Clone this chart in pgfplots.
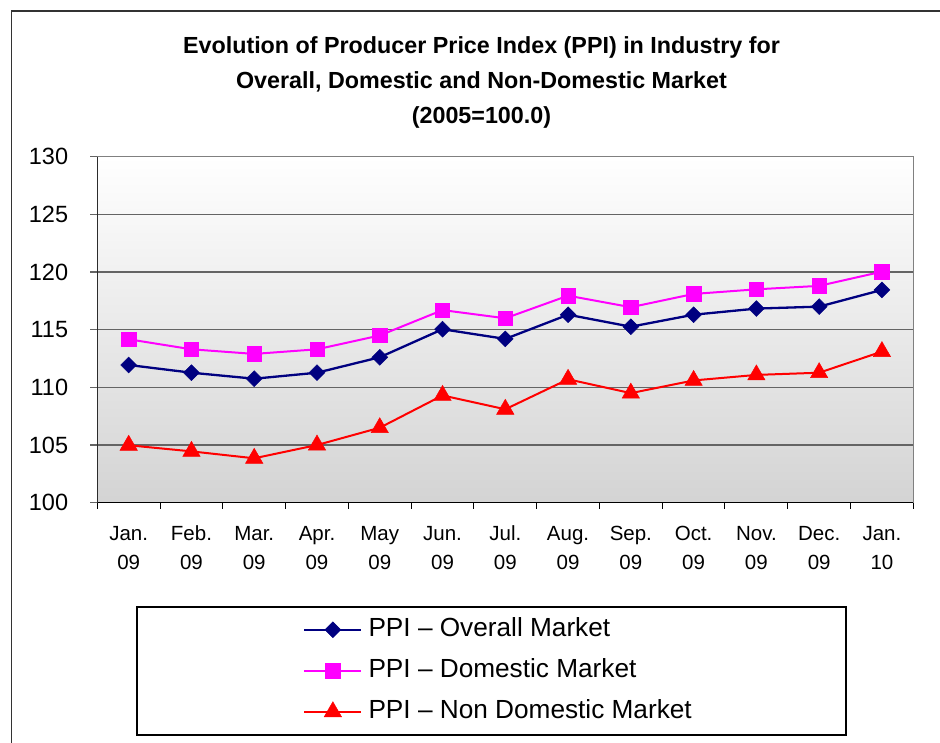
\documentclass[border=0pt]{standalone}
\usepackage{pgfplots}
\pgfplotsset{compat=1.18}
\usepackage{fontspec}
\setmainfont{Liberation Sans}
\definecolor{navy}{RGB}{0,0,128}
\definecolor{mag}{RGB}{255,0,255}
\definecolor{rd}{RGB}{255,0,0}
\definecolor{gridc}{RGB}{100,100,100}
\begin{document}
\begin{tikzpicture}
\useasboundingbox (0,0) rectangle (940pt,743pt);
\draw[line width=1.5pt, black!80] (11.5pt,0pt) -- (11.5pt,732pt) -- (940pt,732pt);
\begin{axis}[
  at={(97.3pt,240.3pt)}, anchor=south west,
  scale only axis, width=816pt, height=346pt,
  xmin=-0.5, xmax=12.5, ymin=100, ymax=130,
  ytick={100,105,...,130},
  xtick={0,...,12},
  xticklabels={{Jan.\\09},{Feb.\\09},{Mar.\\09},{Apr.\\09},{May\\09},{Jun.\\09},{Jul.\\09},{Aug.\\09},{Sep.\\09},{Oct.\\09},{Nov.\\09},{Dec.\\09},{Jan.\\10}},
  minor xtick={-0.5,0.5,...,12.5},
  major x tick style={draw=none},
  tick pos=left,
  tick align=outside,
  major tick length=7pt, minor tick length=6pt,
  tick style={gridc, line width=1.2pt},
  minor x tick style={black, line width=1pt},
  ymajorgrids=true,
  grid style={gridc, line width=1.2pt},
  axis line style={draw=black!50, line width=1.5pt},
  axis background/.style={top color=white, bottom color=black!17},
  /pgf/number format/assume math mode=true,
  yticklabel style={font=\fontsize{23.5}{28}\selectfont, inner sep=0pt, anchor=east, xshift=-22pt},
  xticklabel style={font=\fontsize{20.5}{29}\selectfont, align=center, inner sep=0pt, anchor=north, yshift=-16pt},
  title={Evolution of Producer Price Index (PPI) in Industry for\\Overall, Domestic and Non-Domestic Market\\(2005=100.0)},
  title style={at={(axis description cs:0.4708,1.3315)}, anchor=north, align=center, inner sep=0pt, font=\bfseries\fontsize{23.3}{35}\selectfont},
  legend style={at={(axis description cs:0.2521,-0.332)}, anchor=north west, draw=none, fill=none, inner sep=0pt, row sep=17pt,
    nodes={inner sep=0pt, text height=19pt, text depth=5pt, font=\fontsize{26.2}{30}\selectfont},
    /tikz/every odd column/.append style={column sep=6pt}},
  legend cell align=left,
  legend image code/.code={\draw[mark repeat=2,mark phase=2,#1] plot coordinates {(0pt,0pt)(28.5pt,0pt)(57pt,0pt)};},
]
\addplot[navy, line width=2.3pt, mark=square*, mark size=5.6pt, mark options={rotate=45, line width=0.5pt}] coordinates {
(0,111.94) (1,111.27) (2,110.75) (3,111.27) (4,112.61) (5,115.04) (6,114.2) (7,116.3) (8,115.26) (9,116.3) (10,116.83) (11,117.0) (12,118.45)};
\addlegendentry{PPI -- Overall Market}
\addplot[mag, line width=2pt, mark=square*, mark size=7.2pt, mark options={line width=0.5pt}] coordinates {
(0,114.17) (1,113.3) (2,112.9) (3,113.3) (4,114.5) (5,116.7) (6,115.99) (7,117.95) (8,116.95) (9,118.1) (10,118.5) (11,118.8) (12,120.03)};
\addlegendentry{PPI -- Domestic Market}
\addplot[rd, line width=2pt, mark=triangle*, mark size=10pt, mark options={line width=0.5pt}] coordinates {
(0,104.98) (1,104.45) (2,103.85) (3,105.0) (4,106.5) (5,109.3) (6,108.1) (7,110.7) (8,109.5) (9,110.6) (10,111.08) (11,111.27) (12,113.1)};
\addlegendentry{PPI -- Non Domestic Market}
\draw[black, line width=1.5pt] (rel axis cs:0,1) -- (rel axis cs:0,0) -- (rel axis cs:1,0);
\end{axis}
\draw[black, line width=1.2pt] (137pt,8pt) rectangle (846pt,136pt);
\end{tikzpicture}
\end{document}
